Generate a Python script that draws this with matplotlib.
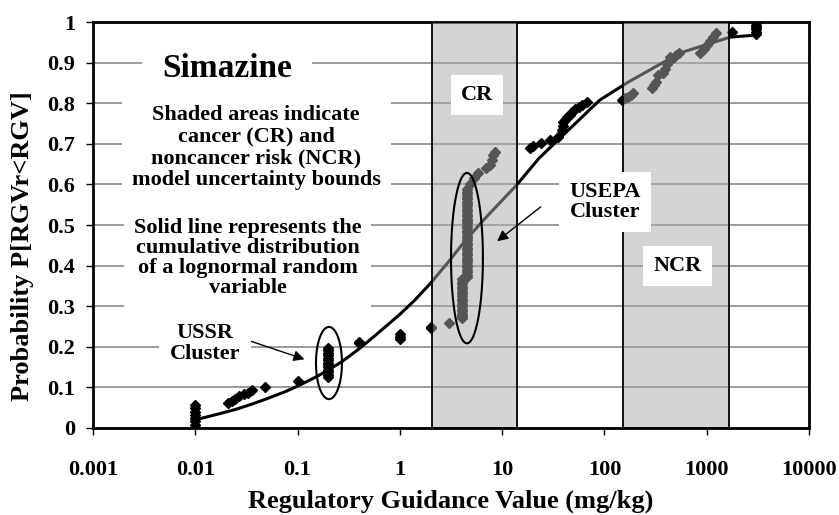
import numpy as np
import matplotlib.pyplot as plt
from matplotlib.ticker import FixedLocator, FixedFormatter, NullLocator

plt.rcParams['font.family'] = 'serif'
plt.rcParams['font.serif'] = ['Liberation Serif', 'DejaVu Serif']
plt.rcParams['font.weight'] = 'bold'

# observed regulatory guidance values (mg/kg) and their empirical probabilities
rgv_x = ([0.01] * 8
         + [0.021, 0.023, 0.0245, 0.027, 0.030, 0.033, 0.036, 0.048, 0.101]
         + [0.2] * 13
         + [0.4, 0.4, 1.0, 1.0, 1.0, 2.0, 2.0, 3.0]
         + [4.05] * 17 + [4.5] * 37
         + [4.8, 5.3, 5.8, 7.0, 7.6, 7.9, 8.2, 8.5]
         + [18.8, 19.9, 24.0, 29.2, 34.8, 38.2, 39.0, 39.6, 41.0, 43.5, 46.0, 48.7, 52.0, 55.9, 61.0, 67.0]
         + [150, 160, 170, 180, 190, 290, 305, 320, 335, 370, 390, 410, 440, 470, 500, 530,
            860, 930, 1000, 1080, 1150, 1230, 1770]
         + [3000] * 6)
rgv_p = ([0.0, 0.008, 0.016, 0.024, 0.032, 0.04, 0.048, 0.056]
         + [0.062, 0.066, 0.071, 0.079, 0.083, 0.087, 0.094, 0.101, 0.116]
         + [0.125, 0.131, 0.137, 0.143, 0.149, 0.155, 0.161, 0.167, 0.173, 0.179, 0.185, 0.191, 0.197]
         + [0.209, 0.213, 0.218, 0.224, 0.232, 0.246, 0.25, 0.259]
         + [0.27, 0.276, 0.282, 0.288, 0.294, 0.300, 0.306, 0.312, 0.318, 0.324, 0.330, 0.336,
            0.342, 0.348, 0.354, 0.360, 0.366]
         + [0.372, 0.378, 0.384, 0.390, 0.396, 0.402, 0.408, 0.414, 0.420, 0.426, 0.432, 0.438,
            0.444, 0.450, 0.456, 0.462, 0.468, 0.474, 0.480, 0.486, 0.492, 0.498, 0.504, 0.510,
            0.516, 0.522, 0.528, 0.534, 0.540, 0.546, 0.552, 0.558, 0.564, 0.570, 0.576, 0.582, 0.588]
         + [0.600, 0.615, 0.628, 0.640, 0.648, 0.660, 0.672, 0.680]
         + [0.690, 0.695, 0.702, 0.709, 0.717, 0.734, 0.744, 0.754, 0.760, 0.766, 0.772, 0.778,
            0.785, 0.791, 0.797, 0.803]
         + [0.808, 0.812, 0.816, 0.821, 0.825, 0.837, 0.845, 0.853, 0.869, 0.874, 0.885, 0.896,
            0.914, 0.911, 0.918, 0.924, 0.924, 0.934, 0.944, 0.953, 0.963, 0.973, 0.975]
         + [0.970, 0.976, 0.982, 0.988, 0.994, 1.0])

# lognormal cdf
cdf_x = [0.01, 0.0166, 0.025, 0.036, 0.05, 0.075, 0.1, 0.155, 0.2, 0.27, 0.4, 0.6, 1.0, 1.4,
         2.0, 3.0, 4.3, 6.5, 10, 14, 23, 40, 90, 170, 300, 547, 1000, 1690, 3000]
cdf_p = [0.020, 0.034, 0.046, 0.059, 0.072, 0.089, 0.103, 0.127, 0.143, 0.163, 0.195, 0.232,
         0.280, 0.315, 0.357, 0.410, 0.460, 0.511, 0.561, 0.600, 0.665, 0.723, 0.808, 0.852,
         0.887, 0.924, 0.945, 0.963, 0.968]

# model uncertainty bounds (mg/kg)
cr_bounds = [2.06, 14.0]
ncr_bounds = [151, 1650]

x_ticks = [0.001, 0.01, 0.1, 1, 10, 100, 1000, 10000]
x_labels = ['0.001', '0.01', '0.1', '1', '10', '100', '1000', '10000']
y_ticks = [0, 0.1, 0.2, 0.3, 0.4, 0.5, 0.6, 0.7, 0.8, 0.9, 1]
y_labels = ['0', '0.1', '0.2', '0.3', '0.4', '0.5', '0.6', '0.7', '0.8', '0.9', '1']

fig = plt.figure(figsize=(8.39, 5.15), dpi=100)
ax = fig.add_axes([0.1108, 0.169, 0.8535, 0.788])
ax.set_xscale('log')
ax.set_xlim(0.001, 10000)
ax.set_ylim(0, 1)

ax.yaxis.grid(True, color='#808080', lw=1.1)
ax.set_axisbelow(True)

ax.plot(rgv_x, rgv_p, 'D', color='black', ms=5, zorder=2)
ax.plot(cdf_x, cdf_p, '-', color='black', lw=2.2, zorder=2)

# translucent shading drawn over the data, as in the original
for lo, hi in [cr_bounds, ncr_bounds]:
    ax.axvspan(lo, hi, facecolor=(0.67, 0.67, 0.67, 0.5), edgecolor='black', lw=1.3, zorder=3)

# cluster ellipses (centre in log10 x, radii in decades / probability)
t = np.linspace(0, 2 * np.pi, 200)
for cx, cy, rx, ry in [(-0.693, 0.16, 0.127, 0.089), (0.656, 0.4185, 0.156, 0.21)]:
    ax.plot(10 ** (cx + rx * np.cos(t)), cy + ry * np.sin(t), color='black', lw=1.5, zorder=4)

arrow = dict(arrowstyle='-|>', lw=1, color='black', mutation_scale=16)
ax.annotate('', xy=(0.124, 0.167), xytext=(0.032, 0.217), arrowprops=arrow, zorder=4)
ax.annotate('', xy=(8.5, 0.456), xytext=(25, 0.549), arrowprops=arrow, zorder=4)

box = dict(facecolor='white', edgecolor='none', boxstyle='square,pad=0.45')
ax.text(0.0205, 0.887, 'Simazine', fontsize=24, ha='center', va='center', zorder=5,
        bbox=dict(facecolor='white', edgecolor='none', boxstyle='square,pad=0.6'))
ax.text(0.0393, 0.691, 'Shaded areas indicate\ncancer (CR) and\nnoncancer risk (NCR)\nmodel uncertainty bounds',
        fontsize=16, ha='center', va='center', linespacing=1.12, zorder=5, bbox=box)
ax.text(0.0324, 0.42, 'Solid line represents the\ncumulative distribution\nof a lognormal random\nvariable',
        fontsize=16, ha='center', va='center', linespacing=1.0, zorder=5, bbox=box)
ax.text(5.67, 0.82, 'CR', fontsize=16, ha='center', va='center', zorder=5, bbox=box)
ax.text(517, 0.40, 'NCR', fontsize=16, ha='center', va='center', zorder=5, bbox=box)
ax.text(101, 0.557, 'USEPA\nCluster', fontsize=16, ha='center', va='center', linespacing=1.0,
        zorder=5, bbox=box)
ax.text(0.01245, 0.208, 'USSR\nCluster', fontsize=16, ha='center', va='center', linespacing=1.1,
        zorder=5, bbox=dict(facecolor='white', edgecolor='none', boxstyle='square,pad=0.5'))

ax.xaxis.set_major_locator(FixedLocator(x_ticks))
ax.xaxis.set_major_formatter(FixedFormatter(x_labels))
ax.xaxis.set_minor_locator(NullLocator())
ax.yaxis.set_major_locator(FixedLocator(y_ticks))
ax.yaxis.set_major_formatter(FixedFormatter(y_labels))
ax.tick_params(axis='both', direction='out', length=5, width=1, labelsize=16)
ax.tick_params(axis='x', pad=18)
ax.tick_params(axis='y', pad=8)

for sp in ax.spines.values():
    sp.set_linewidth(2)

ax.set_xlabel('Regulatory Guidance Value (mg/kg)', fontsize=19, fontweight='bold', labelpad=7)
ax.set_ylabel('Probability P[RGVr<RGV]', fontsize=19, fontweight='bold')
ax.yaxis.set_label_coords(-0.082, 0.448)

fig.savefig('out.png', dpi=100)
